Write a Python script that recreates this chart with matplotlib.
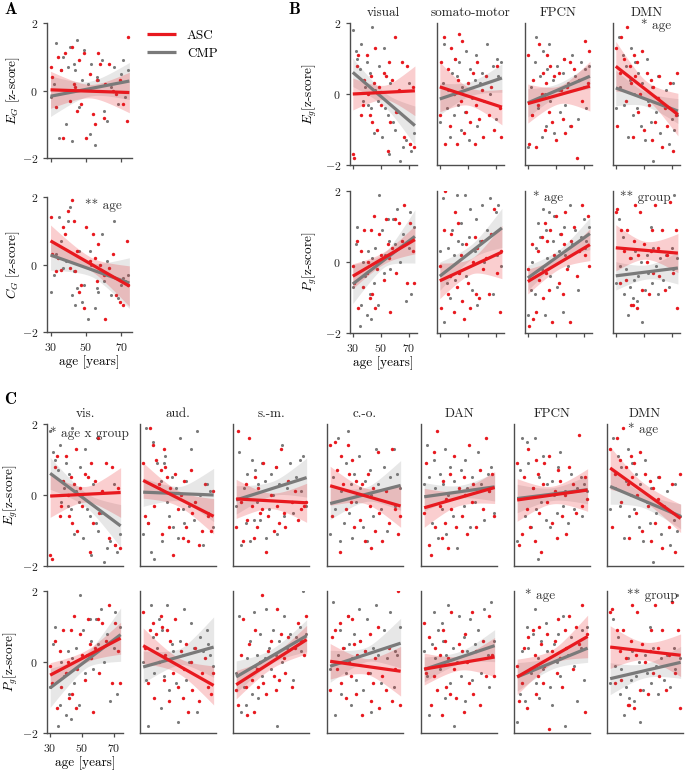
import numpy as np
import matplotlib
matplotlib.use("Agg")
import matplotlib.pyplot as plt

plt.rcParams["font.family"] = "serif"
plt.rcParams["font.serif"] = ["cmr10"]
plt.rcParams["mathtext.fontset"] = "cm"
plt.rcParams["axes.formatter.use_mathtext"] = True

RED = "#e8191f"
GRAY = "#7a7a7a"
SPINE = "#4d4d4d"
W, H = 685, 773

# ages of the participants (same subjects in every panel)
age_asc = [30, 31, 33, 34, 36, 37, 38, 40, 41, 42, 43, 44, 45, 46, 47, 49,
           50, 52, 54, 55, 56, 57, 58, 60, 61, 63, 65, 67, 69, 71, 73, 74]
age_cmp = [30, 32, 33, 35, 36, 37, 39, 40, 41, 42, 43, 44, 45, 46, 48, 49,
           51, 52, 53, 55, 56, 57, 59, 60, 62, 64, 66, 68, 70, 71, 72, 74]

# panel A: global E_G and C_G
a_asc = [
    [0.7, 0.4, -0.5, 1.0, 0.6, -1.4, 1.1, 0.0, -0.3, 1.3, 0.2, 0.1, -0.6, 0.9, -0.4, 1.1,
     -1.4, 0.5, -0.7, -1.0, 0.3, 1.1, 0.8, -0.8, 0.2, 0.8, 0.0, -0.1, 0.3, -0.4, -0.9, 1.6],
    [1.4, 0.3, -0.2, 0.2, -0.15, 1.1, 0.9, 1.6, -0.1, 1.9, 1.3, -0.2, 0.4, -0.8, -0.6, -1.3,
     1.1, 0.1, 0.9, 0.2, -0.5, 0.6, 0.0, -0.3, -1.6, -0.1, 0.3, -0.9, -1.1, -1.2, 0.7, -0.6],
]
a_cmp = [
    [-0.2, 0.2, 1.4, -1.4, 0.6, 1.0, -1.0, 0.7, 1.3, -1.5, 0.8, 0.6, 1.5, -0.5, 0.3, 1.2,
     0.2, -1.3, 0.8, -1.6, 0.4, 0.3, 0.9, -0.6, -0.9, 0.1, 0.7, -0.4, 0.5, 0.9, -0.2, 0.6],
    [-0.8, -0.3, 0.3, 1.4, 0.7, -0.1, 0.1, 1.3, 1.7, -0.9, -0.2, -1.2, -0.7, 0.4, -1.1, -0.6,
     -1.6, 0.4, 0.0, -1.3, -0.7, -0.8, 0.9, -0.5, 0.1, -0.9, 1.3, -1.0, -0.6, -0.4, -0.5, -0.3],
]
# fits: value at age 30, value at age 74.5, CI half width left / centre / right
a_fit_asc = [[0.02, -0.06, 0.55, 0.2, 0.6], [0.70, -0.64, 0.47, 0.2, 0.6]]
a_fit_cmp = [[-0.17, 0.28, 0.6, 0.22, 0.55], [0.28, -0.55, 0.45, 0.2, 0.75]]
a_ylabels = [r"$E_G$ [z-score]", r"$C_G$ [z-score]"]

# panel B: four networks
b_titles = ["visual", "somato-motor", "FPCN", "DMN"]
b_eg_asc = [
    [-1.7, -1.8, 0.8, 1.1, -0.6, -0.3, 0.4, 1.1, 0.0, -0.6, 0.5, -0.8, 0.3, 1.3, -1.0, 0.2,
     -0.3, 0.6, 0.5, -1.6, 0.9, -0.8, 0.4, 1.6, -0.5, 0.1, 0.9, -1.2, 0.8, -1.4, 0.2, -1.5],
    [-0.6, 0.9, 1.6, -1.4, 0.7, -0.9, 1.3, 0.0, 1.0, -1.4, 0.4, 1.7, -0.2, 1.5, -1.1, -0.5,
     0.3, -0.8, 0.6, -1.4, -0.3, 0.9, -0.7, 0.1, -1.2, 0.5, -0.6, 0.2, -1.0, 0.8, -0.4, -1.2],
    [1.1, -1.4, -0.6, 0.4, -1.5, -0.3, 1.4, 0.0, 0.6, -1.0, 0.3, 1.1, -0.5, 0.8, -0.8, 0.5,
     -1.3, 0.6, 0.1, -0.7, 1.0, -1.1, 0.2, 0.9, -0.9, 0.7, -1.8, 0.4, -0.2, 1.5, 0.3, 1.2],
    [1.3, -0.9, 0.6, 1.6, 1.0, -0.2, 1.9, 0.8, 0.3, -1.2, 1.1, 0.5, 0.9, -0.5, 0.0, 1.2,
     -1.0, 0.6, -0.3, 0.4, -1.3, 0.2, -0.8, -0.1, 0.5, -1.5, -0.4, -0.9, 0.3, -1.6, -0.6, 0.6],
]
b_eg_cmp = [
    [1.8, 1.2, 1.0, 0.7, 1.4, -0.2, 0.2, 0.9, -0.3, 0.6, -0.4, 1.9, -1.1, 0.1, -0.2, 0.8,
     -1.2, 1.3, -0.4, -0.6, -1.7, 0.3, -0.8, -1.0, -0.5, -1.9, -1.5, -1.3, 0.3, -1.4, -1.6, -1.1],
    [-0.8, 0.3, 1.4, -0.4, 0.1, -1.2, 0.6, -0.6, 1.0, 0.5, -0.3, 0.9, -1.0, 0.2, -0.5, 1.2,
     -1.3, 0.7, -0.1, 0.4, 1.1, -0.9, 0.3, 0.6, -0.2, 1.4, 0.0, 0.8, -0.7, 1.0, 0.5, 0.9],
    [-1.5, 0.2, -0.6, 0.9, 1.6, -0.4, 0.5, -1.2, 1.2, 0.0, -0.9, 0.7, 1.4, -0.2, 0.4, -1.1,
     0.8, 0.1, -0.5, 0.6, 1.0, -0.3, 0.3, -0.9, 1.1, 0.5, -0.7, 0.9, 0.2, 0.7, -0.4, 0.8],
    [-0.4, 1.6, 0.2, 1.1, -0.3, 0.8, -1.2, 0.4, 1.3, -0.6, 0.0, 0.9, -0.4, 0.6, -0.9, 0.3,
     -1.3, 1.0, -0.2, -0.8, 0.2, -1.9, -0.5, 0.5, -1.1, -0.3, 0.1, -1.4, -0.7, 0.3, -1.0, -0.6],
]
b_pg_asc = [
    [-0.1, -0.6, 0.6, -1.3, 0.3, -0.7, 0.9, -0.3, 0.0, -1.0, 0.9, -0.9, 1.3, -1.3, -0.2, 0.8,
     0.2, -0.5, 1.2, 0.5, 0.1, -1.4, 0.4, 1.2, -0.3, 1.1, 0.6, 1.6, -0.6, 1.1, 0.3, -0.6],
    [-0.1, -1.3, 0.9, 2.0, -0.9, -0.4, 0.8, -1.4, 1.4, -0.7, 1.1, -0.3, 0.2, -1.1, -1.6, 0.5,
     -0.6, -1.3, 0.0, 0.7, -0.9, 0.4, -1.0, 0.6, -0.2, 0.1, -0.9, 0.8, 1.5, -0.3, -1.4, 0.3],
    [-0.2, -1.8, 0.5, -1.6, -1.4, 0.3, -0.5, 0.7, -1.0, 1.1, -0.3, 0.6, -0.8, 0.9, -1.7, 0.2,
     1.3, -0.6, 0.8, -0.9, 0.5, 1.4, -0.2, -1.7, 0.6, 1.0, -0.4, 0.3, 1.6, 0.2, 1.3, -0.1],
    [1.4, 1.5, -0.6, 0.9, 0.3, -0.5, 0.9, 0.1, -1.2, -1.2, 0.6, 1.6, -1.3, 0.2, 1.4, -0.8,
     0.5, 0.0, -0.9, 0.3, 0.9, -0.3, 1.6, 0.4, -0.4, 0.9, -0.8, 0.2, 1.7, -0.3, 0.9, -1.3],
]
b_pg_cmp = [
    [-0.7, 0.5, 1.0, -1.8, -1.2, 0.0, -0.4, -1.5, 0.3, -0.9, -1.6, 0.1, -0.6, 0.4, -1.2, 1.9,
     0.9, -0.3, 0.2, 1.2, 0.6, -0.2, 1.2, 0.5, 1.5, 0.0, 0.8, -1.1, 0.4, 1.4, -0.9, 1.0],
    [0.3, 1.8, -1.7, -0.6, 0.4, -1.0, 0.9, 0.2, -0.5, 1.9, 0.6, -0.3, 1.1, 0.5, 1.9, -0.4,
     0.7, 1.5, -0.8, 0.3, 1.2, -1.2, 0.6, 1.6, 0.0, 0.9, 1.8, -0.9, 1.4, 0.2, 1.6, -0.1],
    [-1.5, -0.8, 0.0, -0.9, 0.4, 1.1, 0.7, -0.2, 1.5, -1.5, 0.9, 0.1, 1.4, -0.4, 0.6, 1.3,
     -0.7, 0.3, 0.8, -1.4, 1.0, 0.2, -0.1, 1.6, 0.5, 0.9, -0.8, 0.7, 1.2, 0.4, 0.6, 1.0],
    [-0.6, 1.2, -0.1, 0.7, -0.9, -0.2, -1.5, -0.7, 0.1, -1.0, -0.5, 0.3, -1.1, -0.4, 0.0, -1.7,
     -0.8, 0.2, -0.3, 1.0, -0.6, 0.4, -0.1, -0.9, 0.1, -0.5, 0.2, -0.7, 0.4, -0.2, 1.9, 0.1],
]
b_eg_fit_asc = [[0.0, 0.09, 0.45, 0.2, 0.7], [0.2, -0.37, 0.7, 0.25, 0.5],
                [-0.27, 0.22, 0.55, 0.25, 0.7], [0.78, -0.58, 0.7, 0.25, 0.6]]
b_eg_fit_cmp = [[0.61, -0.89, 0.4, 0.2, 0.55], [-0.14, 0.45, 0.45, 0.2, 0.4],
                [-0.25, 0.5, 0.4, 0.18, 0.35], [0.17, -0.48, 0.5, 0.2, 0.35]]
b_pg_fit_asc = [[-0.4, 0.63, 0.35, 0.17, 0.4], [-0.53, 0.28, 0.5, 0.22, 0.75],
                [-0.55, 0.49, 0.35, 0.17, 0.45], [0.4, 0.25, 0.65, 0.25, 0.55]]
b_pg_fit_cmp = [[-0.62, 0.72, 0.55, 0.2, 0.75], [-0.4, 0.96, 0.4, 0.2, 0.55],
                [-0.45, 0.8, 0.35, 0.17, 0.45], [-0.39, -0.17, 0.4, 0.2, 0.45]]

# panel C: seven networks (vis. and DMN share subjects' values with panel B)
c_titles = ["vis.", "aud.", "s.-m.", "c.-o.", "DAN", "FPCN", "DMN"]
c_eg_asc = [
    b_eg_asc[0],
    [0.9, -0.6, -0.8, 1.9, 1.4, -0.3, 1.0, 0.3, 0.7, -1.1, 1.3, 0.8, 0.5, -0.9, 0.2, -1.7,
     0.6, -0.4, 0.0, -1.2, 0.4, -0.9, -1.3, 0.7, -0.5, -0.2, -1.4, -1.0, 0.3, -0.6, -1.0, 0.1],
    [-0.9, 1.8, -0.2, -1.3, 0.3, -0.7, 1.6, -0.3, -1.2, 0.5, -0.9, 0.2, -0.5, -0.4, 0.9, -1.6,
     -0.6, 0.0, -1.0, 0.8, -0.3, -0.8, 1.3, -0.5, -0.9, 0.4, -0.2, 0.1, -0.7, -0.4, -0.3, -0.2],
    [1.4, -0.6, 1.5, 0.7, -1.6, 1.1, 0.3, -0.4, 1.4, 0.6, -0.2, 1.0, -0.9, 0.4, 0.0, -0.7,
     0.3, -1.3, 0.6, -0.3, -1.5, 0.2, -1.0, 1.2, -0.5, -1.3, 0.1, -0.8, 1.3, -0.4, -1.1, -0.6],
    [-0.5, 0.9, -1.4, -1.7, 1.2, -0.9, 1.8, -0.3, -1.2, 0.4, -0.8, -0.1, -1.5, 0.6, -0.4, 1.1,
     -0.9, 0.2, -0.6, 0.5, 0.0, -1.1, 1.4, -0.2, 0.3, -0.9, 0.7, -0.4, 1.6, 0.1, 0.6, -0.6],
    [0.9, -1.4, -1.1, 0.5, -0.4, 1.3, -0.9, 0.2, -1.3, 1.0, 0.6, -0.5, -1.6, 0.3, 0.9, -0.2,
     1.1, -0.8, 0.1, -1.2, 0.7, 0.4, -0.6, 0.0, -1.1, 0.8, 0.3, -0.5, 1.7, -0.3, 0.5, -0.1],
    b_eg_asc[3],
]
c_eg_cmp = [
    b_eg_cmp[0],
    [-1.1, 1.9, -0.8, -1.6, 1.5, -1.8, 0.9, 0.2, 0.4, -1.3, 0.9, 1.1, -0.2, -0.6, 0.5, -0.9,
     0.2, -1.2, 1.6, -0.4, -0.8, 0.4, -0.3, 1.3, -0.7, 1.8, 0.0, -1.4, 0.3, -0.5, 0.1, -0.9],
    [-0.3, 1.2, -1.4, 0.2, -0.8, 0.6, -1.3, 1.0, -0.7, 0.7, -0.2, 0.3, -0.7, 0.9, 0.4, -1.2,
     -0.4, 0.6, 0.0, 0.8, -1.1, 0.3, 1.4, -0.6, 0.2, 0.9, -0.5, 0.5, 1.0, 0.1, 1.1, -0.3],
    [-1.1, 0.5, -0.4, 1.6, -1.3, 0.1, -0.8, 0.9, 1.8, -0.5, 0.3, -1.2, 0.6, -0.2, 1.1, 0.2,
     -0.9, 0.4, -1.3, 0.7, 0.0, -0.6, 1.3, 0.3, -0.4, 0.8, -1.0, 0.5, 1.3, -0.3, 0.6, 0.2],
    [0.3, 1.4, 0.5, -0.8, 1.0, 0.2, -1.2, 0.6, -0.4, 0.3, 1.3, -1.1, 0.0, 0.8, -0.6, 0.4,
     -1.5, 0.1, 0.7, -0.3, 1.0, 0.2, -0.9, 0.5, -0.2, 1.2, 0.3, -0.7, 0.6, 0.1, 0.8, -0.5],
    [-1.3, 0.7, 1.6, -0.6, 1.5, 0.9, -0.9, 0.2, 1.6, -0.4, -1.8, 0.5, -0.2, 1.1, -0.7, 0.3,
     -0.9, 0.4, 0.0, -0.5, 0.8, 1.2, -0.3, 0.1, -0.8, 0.6, -0.4, 0.2, 0.5, -0.6, 0.3, 0.1],
    b_eg_cmp[3],
]
c_pg_asc = [
    b_pg_asc[0],
    [1.4, 0.4, -0.6, 0.9, 1.1, -1.0, 0.8, 0.0, 1.3, 1.0, -0.5, 0.2, 0.9, -1.1, 0.6, -0.3,
     1.2, -0.7, 0.3, -1.0, -0.2, 0.5, -1.4, 0.0, -0.8, 0.4, -1.1, -0.3, 0.1, -0.7, -0.9, -0.3],
    [-0.8, -1.2, 0.2, 1.2, -0.7, -1.5, 0.5, -0.5, -1.4, 0.9, -0.2, -0.7, 0.0, 1.9, -0.6, -0.9,
     0.3, 0.6, -0.4, -0.8, 1.5, -0.5, 0.8, 0.1, -0.3, 0.7, -0.7, 0.4, 1.1, 0.6, 0.2, 1.3],
    [-0.8, 0.7, 0.9, -0.2, 1.1, -0.6, 0.4, -1.0, 1.3, 0.0, -0.4, 1.2, 0.5, -0.9, 0.2, 0.6,
     -1.5, 0.3, -0.3, 0.8, -1.1, -0.6, 0.1, 1.0, -1.3, -0.4, -0.8, 0.4, -1.1, -0.2, 2.0, -1.2],
    [1.1, -0.3, 0.7, -1.2, -0.4, 0.4, -0.8, 0.2, -1.5, 0.9, 0.6, -0.7, 0.1, -0.9, 1.4, -0.2,
     -1.0, 0.5, 0.3, -1.4, 0.8, 0.0, -0.6, 1.4, -0.9, 0.3, -1.2, 0.6, -0.4, 1.3, 0.2, -0.4],
    [-0.1, -1.1, -0.6, 0.4, -1.3, 0.7, -0.2, 0.9, 0.2, -0.9, -0.4, 1.0, 0.5, -0.6, -0.1, 0.8,
     -1.9, 0.3, 0.6, -0.3, 1.2, 0.1, -0.7, 0.9, 0.4, 1.3, -0.2, 1.0, 0.5, 1.6, -1.4, 0.8],
    b_pg_asc[3],
]
c_pg_cmp = [
    b_pg_cmp[0],
    [0.0, -0.5, -1.8, 1.6, 0.7, -0.3, 0.4, 1.2, -1.3, 0.9, -0.4, 0.1, 1.6, -0.8, 0.5, 0.3,
     -0.6, -1.7, 0.6, 0.2, 1.5, -0.5, 0.0, 1.1, 0.4, -1.4, 0.7, 0.3, 0.9, 0.5, 0.2, -0.1],
    [-0.3, 1.3, -1.4, -0.7, -1.2, 0.1, 0.6, -0.9, 1.4, -0.1, 0.2, -1.0, 0.8, -0.4, 0.1, 1.5,
     0.4, -0.2, 0.9, 0.2, -1.8, 0.6, 0.0, 1.3, 0.4, 0.8, -0.5, 0.7, 1.0, 0.3, 2.0, 0.8],
    [-0.2, 1.7, -1.5, 0.2, 0.9, -0.9, 0.4, -0.3, 1.3, 0.5, -1.2, 0.1, 0.8, -0.5, 1.5, 0.6,
     -0.8, 0.3, 1.2, -0.3, -1.4, 0.4, 1.6, 0.2, -0.6, 0.9, 0.1, 1.4, -0.7, 0.3, 0.2, 1.0],
    [0.3, -0.4, -1.5, 0.5, 1.4, 0.1, 0.9, -0.2, 1.1, 0.6, -1.0, 0.2, 1.6, -0.6, 0.4, -1.8,
     0.0, 1.3, -0.4, 0.7, -1.1, 0.3, 1.2, -0.5, 0.5, 0.9, -0.3, 1.5, 0.2, -0.7, 1.7, 0.6],
    [-1.7, -0.9, 0.3, -1.1, 1.0, 0.4, -0.3, 0.8, 1.5, -0.6, 0.1, -1.0, 0.6, -0.2, 1.1, 0.3,
     -0.7, -1.2, 0.5, 0.0, 0.8, -0.4, 1.3, -1.8, 0.2, 0.7, -0.1, -1.1, 0.4, 0.9, -0.5, 1.0],
    b_pg_cmp[3],
]
c_eg_fit_asc = [[-0.03, 0.07, 0.6, 0.22, 0.7], [0.41, -0.6, 0.5, 0.22, 0.5],
                [-0.11, -0.22, 0.55, 0.22, 0.55], [0.26, -0.31, 0.55, 0.22, 0.6],
                [-0.36, 0.21, 0.55, 0.22, 0.45], [-0.14, 0.14, 0.6, 0.25, 0.6],
                [0.76, -0.66, 0.6, 0.25, 0.4]]
c_eg_fit_cmp = [[0.61, -0.87, 0.45, 0.2, 0.6], [0.08, 0.0, 0.4, 0.2, 0.75],
                [-0.14, 0.49, 0.4, 0.2, 0.55], [-0.24, 0.27, 0.45, 0.2, 0.7],
                [-0.05, 0.23, 0.4, 0.18, 0.4], [-0.1, 0.15, 0.4, 0.18, 0.4],
                [0.24, -0.6, 0.5, 0.2, 0.35]]
c_pg_fit_asc = [[-0.37, 0.67, 0.35, 0.17, 0.45], [0.46, -0.66, 0.5, 0.22, 0.55],
                [-0.64, 0.63, 0.4, 0.18, 0.4], [0.02, -0.26, 0.5, 0.22, 0.7],
                [-0.2, 0.14, 0.45, 0.2, 0.55], [-0.42, 0.72, 0.5, 0.2, 0.6],
                [0.42, 0.19, 0.6, 0.25, 0.6]]
c_pg_fit_cmp = [[-0.73, 0.77, 0.55, 0.2, 0.75], [-0.14, 0.42, 0.45, 0.22, 0.85],
                [-0.42, 0.74, 0.45, 0.2, 0.45], [-0.12, 0.53, 0.45, 0.2, 0.7],
                [-0.21, 0.46, 0.35, 0.17, 0.45], [-0.42, 0.39, 0.4, 0.18, 0.4],
                [-0.47, -0.01, 0.45, 0.2, 0.45]]

# significance notes: (panel, row, col, text, x / y in axes fraction)
notes = [
    ("A", 1, 0, "** age", 0.45, 0.99),
    ("B", 0, 3, "* age", 0.42, 1.03),
    ("B", 1, 2, "* age", 0.12, 1.0),
    ("B", 1, 3, "** group", 0.10, 1.0),
    ("C", 0, 0, "* age x group", 0.04, 0.98),
    ("C", 0, 6, "* age", 0.28, 1.01),
    ("C", 1, 5, "* age", 0.14, 1.02),
    ("C", 1, 6, "** group", 0.26, 1.02),
]

age_fit = np.linspace(30, 74.5, 60)


def px_axes(fig, left, top, width, height):
    return fig.add_axes([left / W, 1 - (top + height) / H, width / W, height / H])


def fit_band(fit):
    y0, y1, hl, hm, hr = fit
    x = age_fit
    y = y0 + (y1 - y0) * (x - x[0]) / (x[-1] - x[0])
    xc = 52.0
    he = np.where(x < xc, hl, hr)
    xe = np.where(x < xc, x[0], x[-1])
    h = np.sqrt(hm ** 2 + (he ** 2 - hm ** 2) * ((x - xc) / (xe - xc)) ** 2)
    return y, h


def draw_panel(ax, y_asc, y_cmp, f_asc, f_cmp):
    ax.scatter(age_cmp, y_cmp, s=5, color=GRAY, linewidths=0, zorder=2)
    ax.scatter(age_asc, y_asc, s=6, color=RED, linewidths=0, zorder=2)
    lines = []
    for fit, col, alpha in [(f_cmp, GRAY, 0.18), (f_asc, RED, 0.21)]:
        y, h = fit_band(fit)
        ax.fill_between(age_fit, y - h, y + h, color=col, alpha=alpha, lw=0, zorder=3)
    for fit, col, lab in [(f_cmp, GRAY, "CMP"), (f_asc, RED, "ASC")]:
        y, h = fit_band(fit)
        ln, = ax.plot(age_fit, y, color=col, lw=2.3, solid_capstyle="butt", zorder=4, label=lab)
        lines.append(ln)
    ax.set_xlim(28, 76)
    ax.set_ylim(-2, 2)
    for s in ["top", "right"]:
        ax.spines[s].set_visible(False)
    for s in ["left", "bottom"]:
        ax.spines[s].set_color(SPINE)
        ax.spines[s].set_linewidth(1.0)
    ax.tick_params(colors=SPINE, labelcolor="#222222", labelsize=8.5, length=3, width=0.9)
    ax.set_xticks([30, 50, 70])
    ax.set_yticks([-2, 0, 2])
    return lines


fig = plt.figure(figsize=(W / 100, H / 100), dpi=100)
axes = {}

# panel A
for r, top in enumerate([23, 197]):
    ax = px_axes(fig, 47, top, 85, 135)
    lines = draw_panel(ax, a_asc[r], a_cmp[r], a_fit_asc[r], a_fit_cmp[r])
    ax.set_ylabel(a_ylabels[r], fontsize=9.5)
    ax.yaxis.set_label_coords(-0.29, 0.5)
    if r == 0:
        ax.set_xticklabels([])
        legend_lines = lines
    else:
        ax.set_xlabel("age [years]", fontsize=9.5, labelpad=2)
    axes[("A", r, 0)] = ax

# panel B
b_rows = [(b_eg_asc, b_eg_cmp, b_eg_fit_asc, b_eg_fit_cmp, r"$E_g$[z-score]", 23),
          (b_pg_asc, b_pg_cmp, b_pg_fit_asc, b_pg_fit_cmp, r"$P_g$[z-score]", 191)]
for r, (ya, yc, fa, fc, lab, top) in enumerate(b_rows):
    for c, left in enumerate([350, 437, 525, 613]):
        ax = px_axes(fig, left, top, 67, 142)
        draw_panel(ax, ya[c], yc[c], fa[c], fc[c])
        if r == 0:
            ax.set_title(b_titles[c], fontsize=9.5, pad=5, color="#222222")
        if c == 0:
            ax.set_ylabel(lab, fontsize=9.5)
            ax.yaxis.set_label_coords(-0.47, 0.5)
        else:
            ax.set_yticks([])
        if r == 0 or c > 0:
            ax.set_xticklabels([])
        else:
            ax.set_xlabel("age [years]", fontsize=9.5, labelpad=2)
        axes[("B", r, c)] = ax

# panel C
c_rows = [(c_eg_asc, c_eg_cmp, c_eg_fit_asc, c_eg_fit_cmp, r"$E_g$[z-score]", 424),
          (c_pg_asc, c_pg_cmp, c_pg_fit_asc, c_pg_fit_cmp, r"$P_g$[z-score]", 591)]
for r, (ya, yc, fa, fc, lab, top) in enumerate(c_rows):
    for c, left in enumerate([47, 140, 233, 327, 421, 514, 607]):
        ax = px_axes(fig, left, top, 76, 142)
        draw_panel(ax, ya[c], yc[c], fa[c], fc[c])
        if r == 0:
            ax.set_title(c_titles[c], fontsize=9.5, pad=5, color="#222222")
        if c == 0:
            ax.set_ylabel(lab, fontsize=9.5)
            ax.yaxis.set_label_coords(-0.36, 0.5)
        else:
            ax.set_yticks([])
        if r == 1 and c == 0:
            ax.set_xlabel("age [years]", fontsize=9.5, labelpad=2)
        else:
            ax.set_xticks([])
        axes[("C", r, c)] = ax

for panel, r, c, text, xf, yf in notes:
    ax = axes[(panel, r, c)]
    ax.text(xf, yf, text, transform=ax.transAxes, ha="left", va="top",
            fontsize=9.5, color="#333333", zorder=6)

fig.legend(handles=legend_lines[::-1], labels=["ASC", "CMP"], loc="upper left",
           bbox_to_anchor=(142 / W, 1 - 24 / H), frameon=False, fontsize=9.5,
           handlelength=2.2, handletextpad=0.8, labelspacing=0.45, borderaxespad=0)

for letter, x, y in [("A", 4, 2), ("B", 288, 2), ("C", 4, 392)]:
    fig.text(x / W, 1 - y / H, letter, fontfamily="cmb10", fontsize=12,
             ha="left", va="top")

fig.savefig("out.png", dpi=100)
